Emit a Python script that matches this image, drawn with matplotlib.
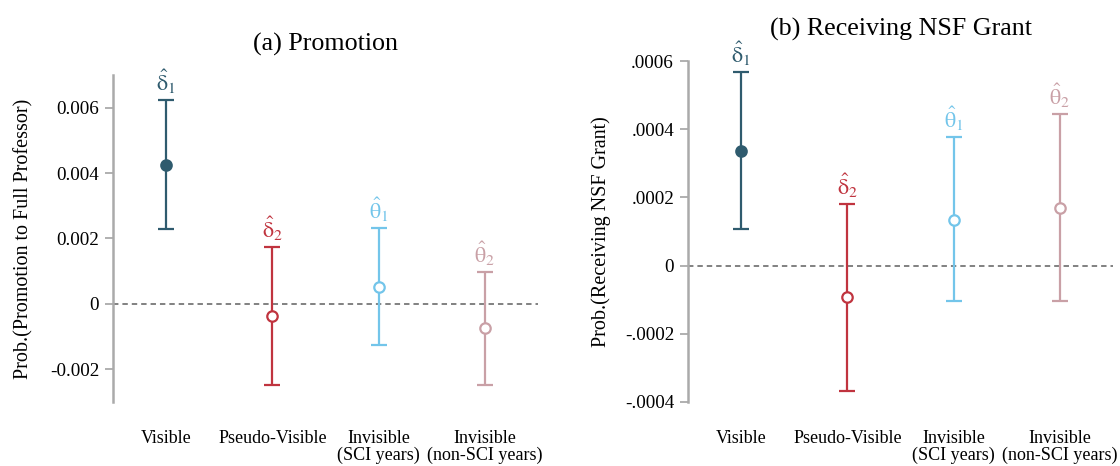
import matplotlib
matplotlib.use("Agg")
import matplotlib.pyplot as plt

plt.rcParams['font.family'] = ['Liberation Serif', 'DejaVu Serif']
plt.rcParams['mathtext.fontset'] = 'stix'

categories = ["Visible", "Pseudo-Visible", "Invisible\n(SCI years)", "Invisible\n(non-SCI years)"]
labels = [r'$\hat{\mathrm{\delta}}_{1}$', r'$\hat{\mathrm{\delta}}_{2}$',
          r'$\hat{\mathrm{\theta}}_{1}$', r'$\hat{\mathrm{\theta}}_{2}$']
colors = ["#2F5B6E", "#C0343F", "#73C5EA", "#C9A0A6"]
filled = [True, False, False, False]

promo_est = [0.00425, -0.00037, 0.00052, -0.00075]
promo_lo = [0.00228, -0.00247, -0.00127, -0.00247]
promo_hi = [0.00623, 0.00173, 0.00231, 0.00097]

nsf_est = [0.000337, -0.000093, 0.000135, 0.00017]
nsf_lo = [0.000107, -0.000367, -0.000105, -0.000105]
nsf_hi = [0.000567, 0.00018, 0.000377, 0.000445]

promo_ticks = [-0.002, 0, 0.002, 0.004, 0.006]
promo_ticklabels = ["-0.002", "0", "0.002", "0.004", "0.006"]
nsf_ticks = [-0.0004, -0.0002, 0, 0.0002, 0.0004, 0.0006]
nsf_ticklabels = ["-.0004", "-.0002", "0", ".0002", ".0004", ".0006"]

fig = plt.figure(figsize=(11.2, 4.66), dpi=100)
ax1 = fig.add_axes([113/1120, 1-402/466, 425/1120, 327/466])
ax2 = fig.add_axes([688/1120, 1-402/466, 425/1120, 341/466])

def draw(ax, est, lo, hi, ylim, ticks, ticklabels, title, ylabel, ypad, lpad):
    xs = list(range(1, len(categories)+1))
    ax.axhline(0, color="#777777", lw=1.3, ls=(0, (3, 2.2)), zorder=1)
    for i, x in enumerate(xs):
        e, l, h = est[i], lo[i], hi[i]
        ax.errorbar([x], [e], yerr=[[e - l], [h - e]], fmt='o', color=colors[i],
                    ecolor=colors[i], elinewidth=1.6, capsize=5.5, capthick=1.6,
                    markersize=7.5, markeredgewidth=1.6,
                    markerfacecolor=colors[i] if filled[i] else 'white', zorder=3)
        ax.annotate(labels[i], xy=(x, h), xytext=(0, 3), textcoords='offset points',
                    ha='center', va='bottom', fontsize=16, color=colors[i])
    ax.set_xlim(0.5, 4.5)
    ax.set_ylim(*ylim)
    ax.set_xticks(xs)
    ax.set_xticklabels(categories, fontsize=13, linespacing=1.02)
    ax.tick_params(axis='x', length=0, pad=20)
    ax.set_yticks(ticks)
    ax.set_yticklabels(ticklabels, fontsize=13.8)
    ax.tick_params(axis='y', length=6, width=1.3, color="#AAAAAA", pad=4)
    for s in ['top', 'right', 'bottom']:
        ax.spines[s].set_visible(False)
    ax.spines['left'].set_color("#AAAAAA")
    ax.spines['left'].set_linewidth(1.8)
    ax.set_title(title, fontsize=18.7, pad=ypad)
    ax.set_ylabel(ylabel, fontsize=14.5, labelpad=lpad)
    ax.set_facecolor('white')

draw(ax1, promo_est, promo_lo, promo_hi, (-0.003, 0.007), promo_ticks, promo_ticklabels,
     "(a) Promotion", "Prob.(Promotion to Full Professor)", 17.5, 12)
draw(ax2, nsf_est, nsf_lo, nsf_hi, (-0.0004, 0.0006), nsf_ticks, nsf_ticklabels,
     "(b) Receiving NSF Grant", "Prob.(Receiving NSF Grant)", 18.5, 10)

fig.savefig("out.png", dpi=100, facecolor='white')
